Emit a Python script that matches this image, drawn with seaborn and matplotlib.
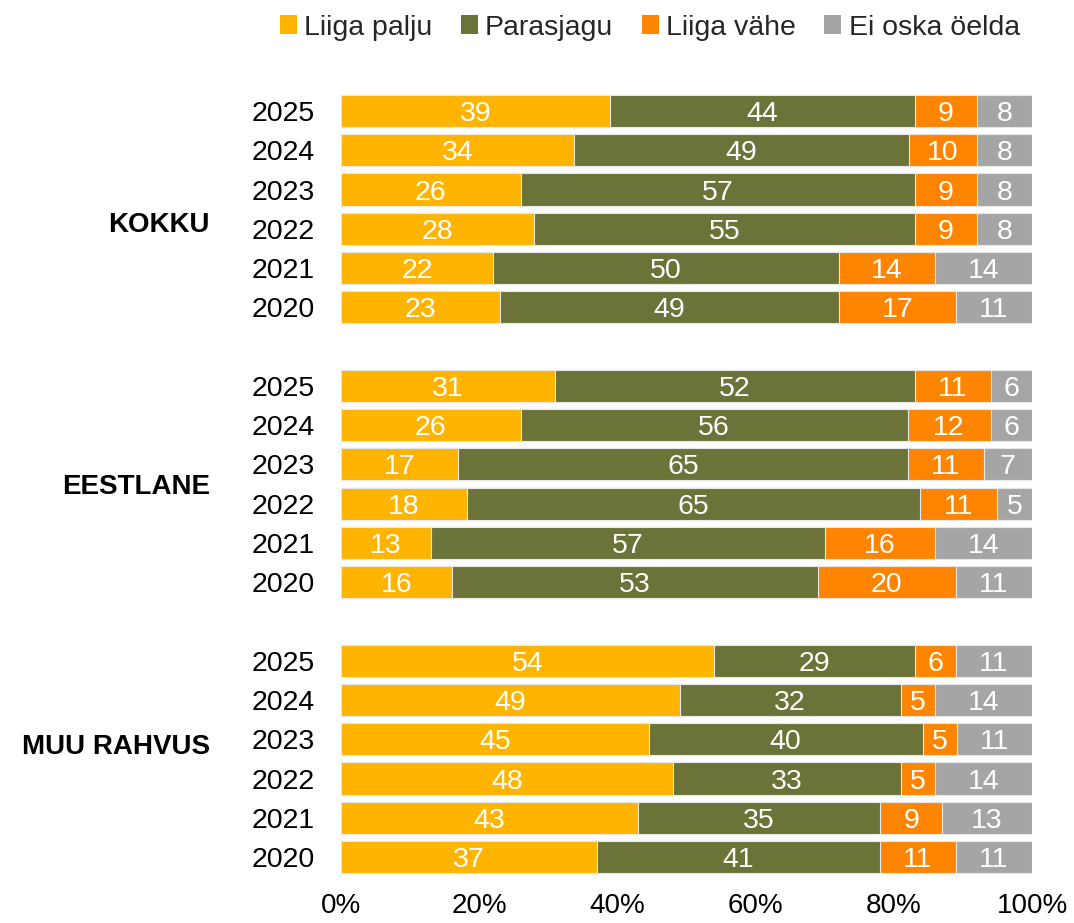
import matplotlib
matplotlib.use('Agg')
import matplotlib.pyplot as plt
import matplotlib.transforms as mtransforms
from matplotlib.patches import Patch
import numpy as np
import pandas as pd
import seaborn as sns

# Vastuste kategooriad ja värvid
categories = ['Liiga palju', 'Parasjagu', 'Liiga vähe', 'Ei oska öelda']
colors = ['#FFB400', '#6B7338', '#FF8500', '#A5A5A5']

groups = ['KOKKU', 'EESTLANE', 'MUU RAHVUS']
years = ['2025', '2024', '2023', '2022', '2021', '2020']

# väärtused aastate kaupa (2025 ... 2020)
liiga_palju = [39, 34, 26, 28, 22, 23,
               31, 26, 17, 18, 13, 16,
               54, 49, 45, 48, 43, 37]
parasjagu = [44, 49, 57, 55, 50, 49,
             52, 56, 65, 65, 57, 53,
             29, 32, 40, 33, 35, 41]
liiga_vahe = [9, 10, 9, 9, 14, 17,
              11, 12, 11, 11, 16, 20,
              6, 5, 5, 5, 9, 11]
ei_oska = [8, 8, 8, 8, 14, 11,
           6, 6, 7, 5, 14, 11,
           11, 14, 11, 14, 13, 11]

sns.set_theme(style='white')
plt.rcParams['font.family'] = ['Liberation Sans', 'DejaVu Sans']

# ridade asukohad, gruppide vahel üks tühi rida
pos = []
for g in range(len(groups)):
    for i in range(len(years)):
        pos.append(g * 7 + i)

vals = np.array([liiga_palju, parasjagu, liiga_vahe, ei_oska], dtype=float).T
shares = vals / vals.sum(axis=1, keepdims=True)
cum = shares.cumsum(axis=1)

df = pd.DataFrame({'pos': pos})
for k in range(4):
    df[f'cum{k}'] = cum[:, k]

fig = plt.figure(figsize=(10.74, 9.23), dpi=100)
ax = fig.add_axes([0.3175, 0.0459, 0.6434, 0.8594])

# kuhjatud tulbad: joonistan kumulatiivsed summad tagant ettepoole
for k in [3, 2, 1, 0]:
    sns.barplot(data=df, x=f'cum{k}', y='pos', orient='y', native_scale=True,
                color=colors[k], saturation=1, width=0.82, errorbar=None,
                edgecolor='#e8e8e8', linewidth=0.8, ax=ax)

# väärtuste sildid
for r in range(len(pos)):
    start = 0
    for k in range(4):
        mid = (start + cum[r, k]) / 2
        ax.text(mid, pos[r], str(int(vals[r, k])), ha='center', va='center_baseline',
                color='white', fontsize=20.5)
        start = cum[r, k]

ax.set_xlim(0, 1)
ax.set_ylim(19.6, -0.6)
ax.set_xticks([0, 0.2, 0.4, 0.6, 0.8, 1.0])
ax.set_xticklabels(['0%', '20%', '40%', '60%', '80%', '100%'])
ax.set_yticks(pos)
ax.set_yticklabels(years * 3)
ax.tick_params(axis='x', length=0, pad=9, labelsize=20, colors='black')
ax.tick_params(axis='y', length=0, pad=19, labelsize=20.5, colors='black')
ax.set_xlabel('')
ax.set_ylabel('')
for s in ax.spines.values():
    s.set_visible(False)

# grupi nimed
trans = mtransforms.blended_transform_factory(ax.transAxes, ax.transData)
group_y = [2.9, 9.58, 16.2]
for name, gy in zip(groups, group_y):
    ax.text(-0.19, gy, name, transform=trans, ha='right', va='center',
            fontsize=20, fontweight='bold', color='black')

handles = [Patch(facecolor=c, edgecolor='none', label=l) for c, l in zip(colors, categories)]
fig.legend(handles=handles, loc='upper center', bbox_to_anchor=(0.605, 1.012),
           ncol=4, frameon=False, fontsize=20.5, handlelength=0.6, handleheight=0.6,
           handletextpad=0.25, columnspacing=1.0)

fig.savefig('out.png', dpi=100)
